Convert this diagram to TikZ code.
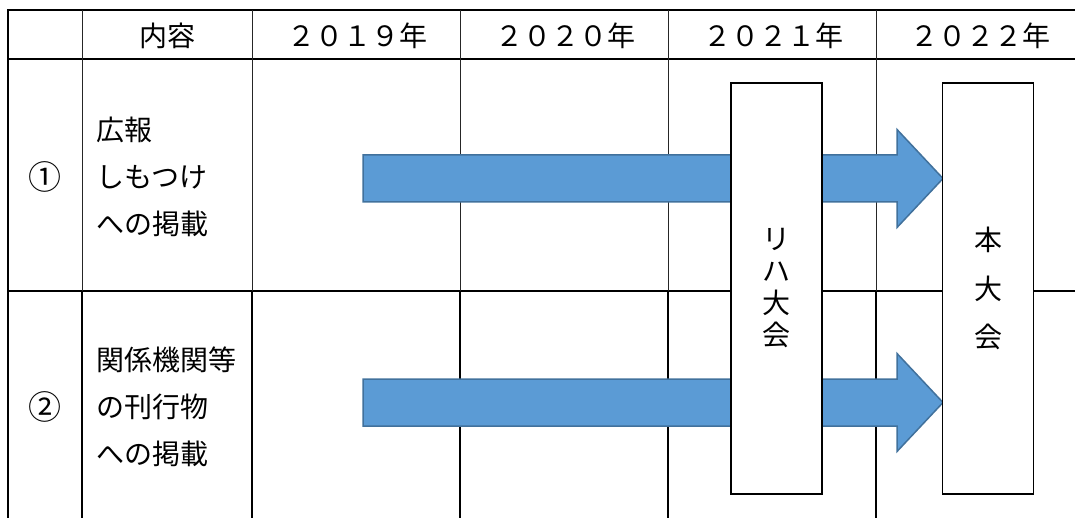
\documentclass[tikz,border=0pt]{standalone}
\usepackage{fontspec}
\newfontfamily\jp{Noto Sans CJK JP}
\definecolor{arrowfill}{HTML}{5B9BD5}
\definecolor{arrowedge}{HTML}{41719C}
\begin{document}
\begin{tikzpicture}[x=1pt,y=-1pt,
  thickline/.style={line width=1.6pt, black},
  thinline/.style={line width=0.9pt, black!85},
  blockarrow/.style={fill=arrowfill, draw=arrowedge, line width=1.5pt, line join=miter},
  eventbox/.style={draw=black, fill=white, line width=1.2pt, minimum width=91pt, minimum height=411pt, inner sep=0pt, align=center},
  hdr/.style={font=\jp\fontsize{28}{32}\selectfont, inner sep=0pt},
  numcell/.style={font=\jp\fontsize{33}{36}\selectfont, inner sep=0pt},
  cell/.style={font=\jp\fontsize{28}{47}\selectfont, align=left, inner sep=0pt, anchor=west}]
\useasboundingbox (0,0) rectangle (1075,518);
% table lines
\draw[thickline] (7,10) -- (1080,10);
\draw[thickline] (7,59) -- (1080,59);
\draw[thickline] (7,291) -- (1080,291);
\draw[thickline] (8,10) -- (8,520);
\foreach \xx in {82,252,460,668,876}{
  \draw[thinline] (\xx,10) -- (\xx,291);
  \draw[thickline] (\xx,291) -- (\xx,520);
}
% header
\node[hdr] (h0) at (167,35.5) {内容};
\node[hdr] (h1) at (357,35.5) {２０１９年};
\node[hdr] (h2) at (565,35.5) {２０２０年};
\node[hdr] (h3) at (773,35.5) {２０２１年};
\node[hdr] (h4) at (980,35.5) {２０２２年};
% rows
\node[numcell] (n1) at (45,177) {①};
\node[cell] (t1) at (96,177) {広報\\しもつけ\\への掲載};
\node[numcell] (n2) at (45,407) {②};
\node[cell] (t2) at (96,407) {関係機関等\\の刊行物\\への掲載};
% arrows
\coordinate (a1) at (363,178.5);
\coordinate (a2) at (363,402.5);
\foreach \aa in {a1,a2}{
  \draw[blockarrow] ([yshift=23.5pt]\aa) -- ++(534,0) -- ++(0,-25.5) -- ++(46,49) -- ++(-46,49) -- ++(0,-25.5) -- ++(-534,0) -- cycle;
}
% event boxes
\node[eventbox, font=\jp\fontsize{28}{32}\selectfont] (reha) at (776.5,288.5) {リ\\ハ\\大\\会};
\node[eventbox, font=\jp\fontsize{28}{48.5}\selectfont] (hon) at (988,288.5) {本\\大\\会};
\end{tikzpicture}
\end{document}
